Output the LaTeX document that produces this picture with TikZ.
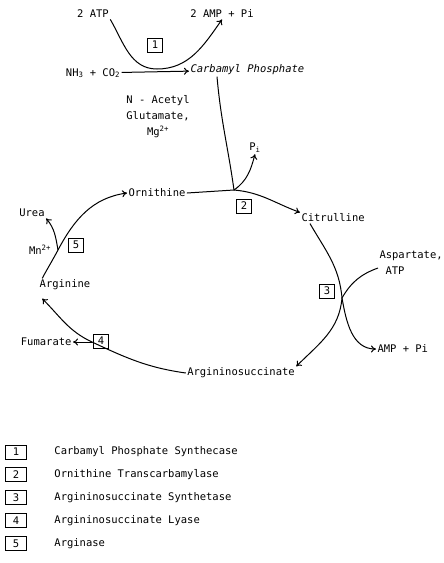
\documentclass[tikz,border=0pt]{standalone}
\usepackage{fontspec}
\setmonofont{DejaVu Sans Mono}
\usetikzlibrary{positioning, arrows.meta}

\tikzset{
  every node/.style={font=\ttfamily\fontsize{10.5}{16}\selectfont, inner sep=1pt},
  enz/.style={draw, line width=0.9pt, minimum width=15pt, minimum height=14pt},
  legbox/.style={draw, line width=0.9pt, minimum width=21pt, minimum height=14pt},
  rxn/.style={-{To[length=5pt, width=7pt]}, line width=1pt},
  every path/.style={line width=1pt}
}

\begin{document}
\begin{tikzpicture}[x=1pt, y=-1pt]
  \useasboundingbox (0,0) rectangle (444,563);

  % step 1
  \node (atp) at (93,14) {2 ATP};
  \node (amp) at (222,14) {2 AMP + Pi};
  \node (nh3) at (93,73) {NH\textsubscript{3} + CO\textsubscript{2}};
  \node[anchor=west] (cp) at (189,70) {\textit{Carbamyl Phosphate}};
  \node[enz] (e1) at (155,45) {1};
  \node[align=center] (cof1) at (158,117) {N - Acetyl\\Glutamate,\\Mg\textsuperscript{2+}};
  \coordinate (r1) at (157,69);

  \draw[rxn] (nh3) -- (cp);
  \draw[rxn] (atp.south east) to[out=-60, in=180] (r1) to[out=0, in=-125] (amp.south);

  % step 2
  \node (orn) at (157,193) {Ornithine};
  \node[anchor=west] (cit) at (300,218) {Citrulline};
  \node (pi) at (255,148) {P\textsubscript{i}};
  \node[enz] (e2) at (244,206) {2};
  \coordinate (r2) at (234,190);

  \draw (cp.south west) ++(28pt,0) to[out=-85, in=98] (r2);
  \draw (orn.east) -- (r2);
  \draw[rxn] (r2) to[out=-5, in=160] (cit.north west);
  \draw[rxn] (r2) to[out=35, in=-105] (pi.south);

  % step 3
  \node[anchor=west, align=left] (asp) at (378,263) {Aspartate,\\\hspace{6pt}ATP};
  \node[anchor=west] (amp2) at (376,349) {AMP + Pi};
  \node (asuc) at (241,373) {Argininosuccinate};
  \node[enz] (e3) at (327,291) {3};
  \coordinate (r3) at (342,298);

  \draw ([xshift=10pt]cit.south west) to[out=-60, in=95] (r3);
  \draw ([yshift=-5pt]asp.west) to[out=200, in=60] (r3);
  \draw[rxn] (r3) to[out=-95, in=45] (asuc.north east);
  \draw[rxn] (r3) to[out=-80, in=180] (amp2.west);

  % step 4
  \node (arg) at (65,285) {Arginine};
  \node[anchor=east] (fum) at (73,342) {Fumarate};
  \node[enz] (e4) at (101,341) {4};
  \coordinate (r4) at (92,342);

  \draw (asuc.west) to[out=172, in=-25] (r4);
  \draw[rxn] (r4) to[out=155, in=-45] ([shift={(4pt,-7pt)}]arg.south west);
  \draw[rxn] (r4) -- (fum.east);

  % step 5
  \node (urea) at (32,213) {Urea};
  \node (mn) at (40,250) {Mn\textsuperscript{2+}};
  \node[enz] (e5) at (76,245) {5};
  \coordinate (r5) at (58,250);

  \draw ([xshift=4pt]arg.north west) to[out=62, in=-118] (r5);
  \draw[rxn] (r5) to[out=62, in=188] (orn.west);
  \draw[rxn] (r5) to[out=100, in=-50] (urea.south east);

  % legend
  \node[legbox] (l1) at (16,452) {1};
  \node[legbox, below=8pt of l1] (l2) {2};
  \node[legbox, below=8pt of l2] (l3) {3};
  \node[legbox, below=8pt of l3] (l4) {4};
  \node[legbox, below=8pt of l4] (l5) {5};

  \node[right=26pt of l1] (n1) {Carbamyl Phosphate Synthecase};
  \node[right=26pt of l2] (n2) {Ornithine Transcarbamylase};
  \node[right=26pt of l3] (n3) {Argininosuccinate Synthetase};
  \node[right=26pt of l4] (n4) {Argininosuccinate Lyase};
  \node[right=26pt of l5] (n5) {Arginase};
\end{tikzpicture}
\end{document}
